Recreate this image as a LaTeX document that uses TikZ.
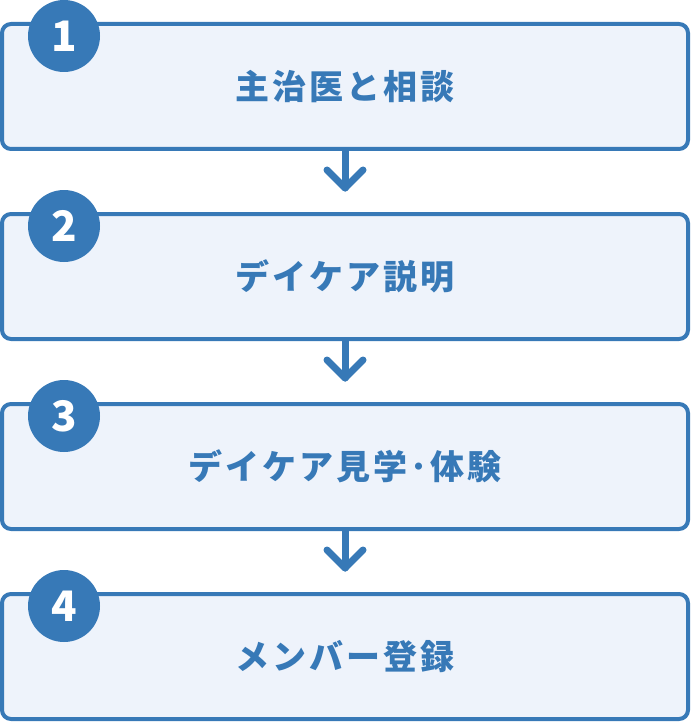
\documentclass[tikz,border=0pt]{standalone}
\usepackage{fontspec}
\usepackage{xcolor}
\usepackage{tikz}
\usetikzlibrary{arrows.meta,shapes}
\newfontfamily\jpfont[LetterSpace=9]{Noto Sans CJK JP}
\newfontfamily\numfont{Noto Sans CJK JP}
\definecolor{flowblue}{HTML}{3779B7}
\definecolor{flowpale}{HTML}{EEF3FB}
\tikzset{
  stepbox/.style={draw=flowblue,line width=4pt,fill=flowpale,rounded corners=9pt,
    minimum width=686pt,minimum height=125pt,inner sep=0pt,text=flowblue,
    font=\jpfont\bfseries\fontsize{34}{34}\selectfont},
  numdot/.style={circle,fill=flowblue,minimum size=72pt,inner sep=0pt,text=white,
    font=\numfont\bfseries\fontsize{42}{42}\selectfont},
  flowarrow/.style={flowblue,line width=7pt,line cap=round,line join=round}
}

\begin{document}
\begin{tikzpicture}[x=1pt,y=-1pt]
\useasboundingbox (0,0) rectangle (690,722);
% steps
\node[stepbox](box1) at (345,86.5){主治医と相談};
\node[stepbox](box2) at (345,276.5){デイケア説明};
\node[stepbox](box3) at (345,466.5){デイケア見学･体験};
\node[stepbox](box4) at (345,656.5){メンバー登録};
\node[numdot](num1) at (64,36){1};
\node[numdot](num2) at (64,226){2};
\node[numdot](num3) at (64,416){3};
\node[numdot](num4) at (64,606){4};
% arrows
\coordinate (tip1) at (345,188);
\coordinate (tip2) at (345,378);
\coordinate (tip3) at (345,568);
\draw[flowarrow](box1.south)--(tip1);
\draw[flowarrow](tip1)++(-18,-18)--(tip1)--++(18,-18);
\draw[flowarrow](box2.south)--(tip2);
\draw[flowarrow](tip2)++(-18,-18)--(tip2)--++(18,-18);
\draw[flowarrow](box3.south)--(tip3);
\draw[flowarrow](tip3)++(-18,-18)--(tip3)--++(18,-18);
\end{tikzpicture}
\end{document}
